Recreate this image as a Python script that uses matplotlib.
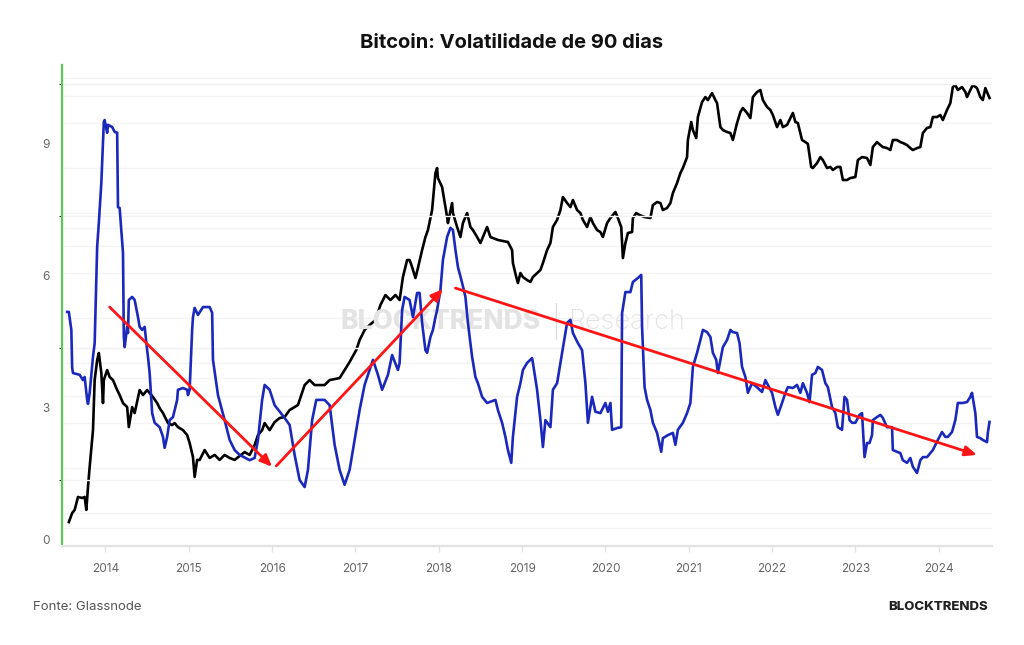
import matplotlib
matplotlib.use("Agg")
import matplotlib.pyplot as plt
from matplotlib.ticker import FixedLocator, NullFormatter, NullLocator
from matplotlib.transforms import ScaledTranslation
import numpy as np

plt.rcParams["font.family"] = ["Inter", "DejaVu Sans"]

# 90-day volatility (left axis), decimal year / value
vol_year = [
    2013.54, 2013.56, 2013.59, 2013.60, 2013.61, 2013.69, 2013.73, 2013.75, 2013.78, 2013.79,
    2013.81, 2013.85, 2013.87, 2013.90, 2013.92, 2013.95, 2013.97, 2013.98, 2013.99, 2014.02,
    2014.03, 2014.08, 2014.11, 2014.14, 2014.15, 2014.17, 2014.21, 2014.22, 2014.23, 2014.26,
    2014.27, 2014.28, 2014.32, 2014.35, 2014.39, 2014.41, 2014.44, 2014.47, 2014.50, 2014.51,
    2014.53, 2014.56, 2014.59, 2014.65, 2014.69, 2014.71, 2014.74, 2014.77, 2014.81, 2014.86,
    2014.87, 2014.93, 2014.98, 2014.99, 2015.01, 2015.04, 2015.05, 2015.07, 2015.11, 2015.17,
    2015.25, 2015.28, 2015.29, 2015.35, 2015.43, 2015.49, 2015.55, 2015.61, 2015.73, 2015.79,
    2015.83, 2015.88, 2015.91, 2015.97, 2016.03, 2016.15, 2016.21, 2016.27, 2016.33, 2016.39,
    2016.43, 2016.48, 2016.53, 2016.63, 2016.69, 2016.75, 2016.81, 2016.87, 2016.93, 2016.99,
    2017.05, 2017.11, 2017.17, 2017.21, 2017.27, 2017.32, 2017.39, 2017.44, 2017.51, 2017.53,
    2017.56, 2017.59, 2017.65, 2017.69, 2017.74, 2017.77, 2017.80, 2017.84, 2017.86, 2017.90,
    2017.93, 2017.96, 2017.98, 2018.02, 2018.05, 2018.10, 2018.14, 2018.17, 2018.20, 2018.23,
    2018.28, 2018.32, 2018.35, 2018.40, 2018.44, 2018.47, 2018.52, 2018.58, 2018.68, 2018.71,
    2018.76, 2018.80, 2018.83, 2018.87, 2018.89, 2018.94, 2018.98, 2019.01, 2019.06, 2019.12,
    2019.13, 2019.18, 2019.22, 2019.25, 2019.28, 2019.34, 2019.37, 2019.42, 2019.46, 2019.49,
    2019.54, 2019.58, 2019.61, 2019.67, 2019.72, 2019.76, 2019.79, 2019.84, 2019.88, 2019.94,
    2020.00, 2020.03, 2020.06, 2020.08, 2020.14, 2020.19, 2020.20, 2020.24, 2020.30, 2020.33,
    2020.39, 2020.43, 2020.44, 2020.47, 2020.50, 2020.54, 2020.57, 2020.62, 2020.67, 2020.69,
    2020.75, 2020.81, 2020.84, 2020.87, 2020.93, 2020.98, 2021.02, 2021.05, 2021.10, 2021.14,
    2021.17, 2021.22, 2021.26, 2021.29, 2021.33, 2021.35, 2021.38, 2021.41, 2021.46, 2021.50,
    2021.53, 2021.58, 2021.61, 2021.64, 2021.68, 2021.71, 2021.76, 2021.83, 2021.88, 2021.92,
    2021.95, 2022.00, 2022.04, 2022.07, 2022.12, 2022.16, 2022.19, 2022.25, 2022.30, 2022.34,
    2022.37, 2022.42, 2022.45, 2022.48, 2022.52, 2022.55, 2022.60, 2022.64, 2022.67, 2022.72,
    2022.76, 2022.79, 2022.84, 2022.87, 2022.90, 2022.93, 2022.96, 2023.00, 2023.05, 2023.08,
    2023.11, 2023.14, 2023.17, 2023.20, 2023.21, 2023.26, 2023.30, 2023.33, 2023.38, 2023.44,
    2023.45, 2023.50, 2023.54, 2023.57, 2023.62, 2023.66, 2023.69, 2023.74, 2023.78, 2023.81,
    2023.86, 2023.90, 2023.93, 2023.99, 2024.04, 2024.08, 2024.11, 2024.16, 2024.20, 2024.23,
    2024.29, 2024.34, 2024.38, 2024.40, 2024.44, 2024.46, 2024.50, 2024.53, 2024.58, 2024.59,
    2024.61,
]
vol_value = [
    5.32, 5.32, 4.91, 4.05, 3.93, 3.89, 3.77, 3.84, 3.32, 3.23,
    3.48, 4.30, 4.61, 6.80, 7.34, 8.25, 9.16, 9.64, 9.68, 9.39,
    9.57, 9.52, 9.41, 9.39, 7.70, 7.68, 6.66, 4.75, 4.52, 4.98,
    4.84, 5.59, 5.66, 5.59, 5.20, 4.98, 4.91, 4.98, 4.45, 4.30,
    3.93, 3.02, 2.80, 2.70, 2.48, 2.23, 2.48, 2.86, 2.93, 3.32,
    3.55, 3.59, 3.55, 3.43, 3.55, 4.91, 5.20, 5.41, 5.25, 5.43,
    5.43, 5.30, 4.23, 3.43, 2.86, 2.41, 2.18, 2.07, 1.95, 2.00,
    2.41, 3.32, 3.66, 3.55, 3.20, 2.91, 2.75, 2.07, 1.50, 1.34,
    1.73, 2.86, 3.32, 3.32, 3.20, 2.30, 1.73, 1.39, 1.73, 2.41,
    3.09, 3.66, 4.00, 4.23, 3.89, 3.55, 3.89, 4.34, 4.00, 4.16,
    5.36, 5.66, 5.59, 5.20, 5.75, 5.75, 5.07, 4.45, 4.39, 4.75,
    4.91, 5.20, 5.36, 5.82, 6.50, 7.02, 7.23, 7.18, 6.73, 6.34,
    5.98, 5.66, 5.07, 4.30, 3.84, 3.70, 3.39, 3.25, 3.32, 3.09,
    2.80, 2.48, 2.18, 1.89, 2.48, 3.39, 3.70, 4.00, 4.16, 4.27,
    4.16, 3.55, 2.86, 2.25, 2.86, 2.70, 3.55, 3.70, 4.16, 4.52,
    5.07, 5.14, 4.84, 4.61, 4.45, 3.70, 2.80, 3.39, 3.05, 3.02,
    3.25, 3.05, 3.25, 2.64, 2.68, 2.70, 5.29, 5.77, 5.77, 6.00,
    6.09, 6.16, 4.98, 3.61, 3.32, 3.09, 2.80, 2.57, 2.14, 2.45,
    2.52, 2.57, 2.30, 2.64, 2.80, 3.02, 3.25, 4.07, 4.39, 4.68,
    4.91, 4.86, 4.75, 4.39, 4.23, 3.93, 4.23, 4.52, 4.68, 4.91,
    4.86, 4.84, 4.61, 4.07, 3.84, 3.48, 3.70, 3.59, 3.50, 3.77,
    3.66, 3.48, 3.16, 2.98, 3.25, 3.48, 3.61, 3.59, 3.66, 3.48,
    3.70, 3.48, 3.27, 3.89, 3.93, 4.07, 4.00, 3.70, 3.61, 3.16,
    3.02, 2.70, 2.64, 3.39, 3.32, 2.86, 2.80, 2.80, 2.98, 3.02,
    2.02, 2.34, 2.34, 2.52, 2.86, 2.93, 2.98, 2.91, 2.70, 2.70,
    2.18, 2.14, 2.11, 1.95, 1.89, 2.00, 1.80, 1.66, 1.95, 2.02,
    2.02, 2.11, 2.18, 2.41, 2.59, 2.48, 2.48, 2.59, 2.86, 3.25,
    3.25, 3.27, 3.39, 3.48, 3.02, 2.48, 2.45, 2.41, 2.36, 2.57,
    2.82,
]

# BTC price in USD (hidden log axis), decimal year / value
price_year = [
    2013.56, 2013.60, 2013.63, 2013.67, 2013.72, 2013.75, 2013.77, 2013.79, 2013.81, 2013.85,
    2013.87, 2013.90, 2013.92, 2013.95, 2013.97, 2013.98, 2014.02, 2014.05, 2014.09, 2014.14,
    2014.17, 2014.21, 2014.26, 2014.28, 2014.32, 2014.35, 2014.41, 2014.45, 2014.50, 2014.53,
    2014.57, 2014.62, 2014.65, 2014.69, 2014.75, 2014.80, 2014.83, 2014.87, 2014.93, 2014.98,
    2015.01, 2015.05, 2015.07, 2015.10, 2015.13, 2015.19, 2015.25, 2015.31, 2015.37, 2015.43,
    2015.49, 2015.55, 2015.61, 2015.67, 2015.73, 2015.79, 2015.83, 2015.88, 2015.91, 2015.97,
    2016.03, 2016.09, 2016.15, 2016.21, 2016.31, 2016.39, 2016.45, 2016.51, 2016.63, 2016.69,
    2016.81, 2016.93, 2017.01, 2017.05, 2017.11, 2017.17, 2017.24, 2017.30, 2017.36, 2017.42,
    2017.48, 2017.53, 2017.57, 2017.62, 2017.65, 2017.68, 2017.72, 2017.75, 2017.80, 2017.84,
    2017.87, 2017.92, 2017.96, 2017.98, 2017.99, 2018.04, 2018.06, 2018.10, 2018.11, 2018.16,
    2018.17, 2018.22, 2018.26, 2018.29, 2018.34, 2018.38, 2018.41, 2018.46, 2018.50, 2018.53,
    2018.58, 2018.62, 2018.65, 2018.71, 2018.83, 2018.88, 2018.89, 2018.93, 2018.95, 2018.98,
    2019.01, 2019.06, 2019.10, 2019.13, 2019.18, 2019.22, 2019.25, 2019.30, 2019.34, 2019.37,
    2019.42, 2019.46, 2019.49, 2019.54, 2019.58, 2019.61, 2019.66, 2019.70, 2019.73, 2019.78,
    2019.82, 2019.85, 2019.90, 2019.94, 2019.97, 2020.02, 2020.06, 2020.12, 2020.15, 2020.19,
    2020.21, 2020.24, 2020.27, 2020.32, 2020.33, 2020.37, 2020.41, 2020.47, 2020.54, 2020.57,
    2020.62, 2020.66, 2020.69, 2020.74, 2020.78, 2020.81, 2020.86, 2020.90, 2020.93, 2020.98,
    2020.99, 2021.03, 2021.05, 2021.09, 2021.11, 2021.16, 2021.20, 2021.23, 2021.28, 2021.32,
    2021.34, 2021.38, 2021.41, 2021.46, 2021.50, 2021.53, 2021.58, 2021.62, 2021.65, 2021.70,
    2021.74, 2021.77, 2021.82, 2021.86, 2021.89, 2021.94, 2021.98, 2022.01, 2022.06, 2022.10,
    2022.13, 2022.18, 2022.22, 2022.25, 2022.28, 2022.31, 2022.36, 2022.40, 2022.43, 2022.47,
    2022.49, 2022.54, 2022.58, 2022.61, 2022.66, 2022.70, 2022.73, 2022.78, 2022.82, 2022.85,
    2022.90, 2022.94, 2023.00, 2023.03, 2023.08, 2023.14, 2023.18, 2023.21, 2023.26, 2023.30,
    2023.33, 2023.38, 2023.42, 2023.45, 2023.50, 2023.54, 2023.57, 2023.62, 2023.66, 2023.69,
    2023.74, 2023.78, 2023.81, 2023.86, 2023.90, 2023.93, 2023.98, 2024.02, 2024.05, 2024.10,
    2024.14, 2024.17, 2024.20, 2024.23, 2024.28, 2024.32, 2024.34, 2024.38, 2024.41, 2024.46,
    2024.50, 2024.53, 2024.56, 2024.58, 2024.61,
]
price_value = [
    87, 100, 105, 128, 126, 128, 105, 149, 203, 357,
    770, 1047, 1166, 858, 541, 770, 898, 807, 770, 661,
    612, 541, 509, 374, 509, 464, 661, 612, 661, 631,
    593, 541, 501, 464, 398, 386, 398, 374, 357, 331,
    293, 236, 174, 226, 226, 263, 233, 244, 226, 244,
    233, 226, 240, 255, 244, 284, 331, 357, 398, 357,
    404, 430, 437, 486, 525, 713, 770, 713, 713, 770,
    794, 1016, 1222, 1423, 1660, 1792, 1936, 2437, 2840, 2630,
    2840, 2630, 3744, 4860, 4860, 4365, 3690, 4300, 5665, 6918,
    7700, 10470, 18480, 19950, 17110, 14900, 12790, 9400, 8575, 11660,
    10000, 8070, 6918, 8575, 10000, 8070, 7700, 6918, 6310, 6918,
    8070, 6918, 6810, 6610, 6410, 5665, 4640, 3744, 3415, 3980,
    3744, 3575, 3470, 3744, 3980, 4170, 4640, 5665, 6310, 8070,
    8990, 10470, 12790, 11660, 10960, 12210, 10470, 10000, 8990, 8070,
    9400, 8575, 7700, 7470, 6918, 8575, 9260, 10160, 9260, 8070,
    5010, 6310, 7360, 7470, 9260, 10000, 9700, 9400, 9260, 11300,
    11840, 11660, 10470, 10800, 11660, 13590, 15850, 18480, 19950, 23600,
    30670, 40430, 35750, 31620, 43650, 54950, 59300, 56620, 63100, 56620,
    54080, 37420, 35750, 34670, 34140, 30670, 39810, 47100, 50120, 46450,
    42950, 59300, 64120, 66070, 56620, 50930, 48640, 44980, 37420, 41690,
    37420, 38640, 42950, 46450, 40430, 39810, 30670, 29720, 28900, 20280,
    19950, 21540, 23600, 22540, 19950, 20280, 19360, 20280, 20280, 16600,
    16600, 17110, 17380, 22540, 23600, 23280, 20890, 27540, 29720, 28380,
    27540, 27100, 26300, 30670, 30670, 29720, 29310, 28380, 27100, 26300,
    27100, 27540, 34140, 36900, 37420, 43650, 43650, 44980, 41690, 48640,
    54080, 69180, 71290, 66070, 69180, 64120, 59300, 66070, 71290, 68080,
    59300, 56620, 68080, 64120, 58480,
]

# trend arrows drawn on the chart (start year, start vol, end year, end vol)
arrow_x0 = [2014.05, 2016.05, 2018.20]
arrow_y0 = [5.43, 1.82, 5.86]
arrow_x1 = [2016.00, 2018.05, 2024.46]
arrow_y1 = [1.80, 5.84, 2.07]

year_ticks = list(range(2014, 2025))
vol_ticks = [0, 3, 6, 9]
vol_grid = [0, 1.5, 3, 4.5, 6, 7.5, 9, 10.5]
price_grid = [m * 10 ** e for e in range(1, 6) for m in (1, 2, 4, 6, 8)]

fig = plt.figure(figsize=(10.24, 6.45), dpi=100)
ax = fig.add_axes([62 / 1024, 1 - 546 / 645, 930 / 1024, 481 / 645])
ax2 = ax.twinx()

ax.set_xlim(2013.478, 2024.64)
ax.set_ylim(0, 10.93)
ax2.set_yscale("log")
ax2.set_ylim(60.3, 97000)

# gridlines
ax.yaxis.set_minor_locator(FixedLocator(vol_grid))
ax.grid(axis="y", which="minor", color="#f2f2f2", lw=1.0)
ax.set_axisbelow(True)
ax2.yaxis.set_major_locator(FixedLocator(price_grid))
ax2.yaxis.set_minor_locator(NullLocator())
ax2.yaxis.set_major_formatter(NullFormatter())
ax2.grid(axis="y", which="major", color="#f4f4f4", lw=1.0)
ax2.set_axisbelow(True)
ax2.tick_params(axis="y", length=0)

# watermark
ax.text(0.299, 0.466, "BLOCKTRENDS", transform=ax.transAxes, fontsize=19,
        fontweight="heavy", color="#e3e3e3", va="center", ha="left", zorder=0.5)
ax.text(0.531, 0.466, "|", transform=ax.transAxes, fontsize=22,
        fontweight="light", color="#dddddd", va="center", ha="center", zorder=0.5)
ax.text(0.544, 0.466, "Research", transform=ax.transAxes, fontsize=19.5,
        fontweight="light", color="#e3e3e3", va="center", ha="left", zorder=0.5)

ax.plot(vol_year, vol_value, color="#1a28bb", lw=1.9, zorder=3)
ax2.plot(price_year, price_value, color="#000000", lw=1.9, zorder=3)

for x0, y0, x1, y1 in zip(arrow_x0, arrow_y0, arrow_x1, arrow_y1):
    ax.annotate("", xy=(x1, y1), xytext=(x0, y0),
                arrowprops=dict(arrowstyle="-|>,head_length=0.7,head_width=0.3",
                                color="#ff1515", lw=2.0, shrinkA=0, shrinkB=0),
                zorder=4)
ax.set_zorder(ax2.get_zorder() + 1)
ax.patch.set_visible(False)

# spines and ticks
for s in ["top", "right"]:
    ax.spines[s].set_visible(False)
    ax2.spines[s].set_visible(False)
ax2.spines["left"].set_visible(False)
ax2.spines["bottom"].set_visible(False)
ax.spines["left"].set_color("#5cc85c")
ax.spines["left"].set_linewidth(1.6)
ax.spines["bottom"].set_color("#e2e2e2")
ax.spines["bottom"].set_linewidth(1.6)

ax.set_xticks(year_ticks)
ax.set_xticklabels([str(y) for y in year_ticks])
ax.set_yticks(vol_ticks)
ax.tick_params(axis="x", colors="#e2e2e2", labelcolor="#666666", length=4,
               width=1, labelsize=8.5, pad=8)
ax.tick_params(axis="y", length=0, labelcolor="#666666", labelsize=8.5, pad=9)
for lbl in ax.get_yticklabels():
    lbl.set_transform(lbl.get_transform() + ScaledTranslation(0, 6 / 100, fig.dpi_scale_trans))

fig.text(0.5, 1 - 43 / 645, "Bitcoin: Volatilidade de 90 dias", ha="center", va="center",
         fontsize=14.5, fontweight="bold", color="#111111")
fig.text(33 / 1024, 1 - 607 / 645, "Fonte: Glassnode", ha="left", va="center",
         fontsize=9.5, color="#555555")
fig.text(988 / 1024, 1 - 607 / 645, "BLOCKTRENDS", ha="right", va="center",
         fontsize=9.5, fontweight="heavy", color="#222222")

fig.savefig("out.png", dpi=100, facecolor="white")
